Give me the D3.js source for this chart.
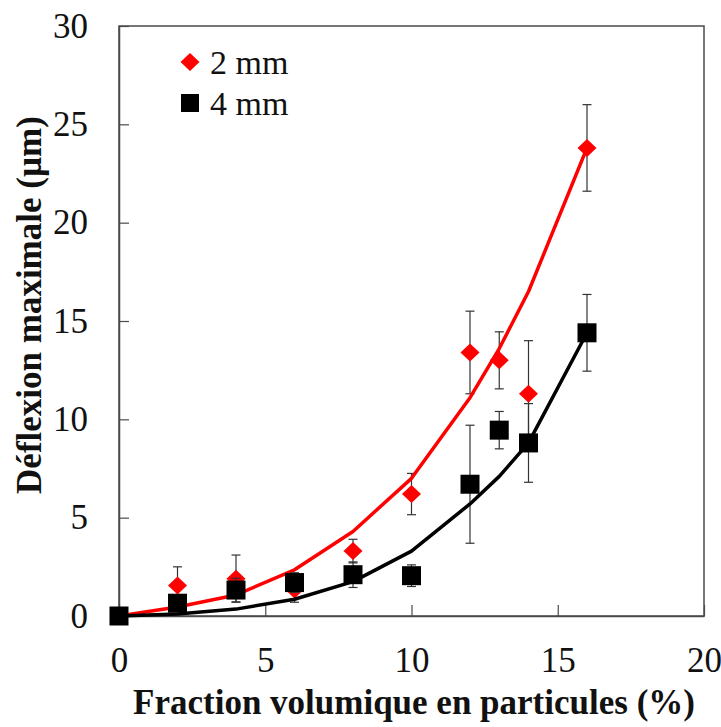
<!DOCTYPE html>
<html>
<head>
<meta charset="utf-8">
<script src="https://cdn.jsdelivr.net/npm/d3@7"></script>
<style>
  html, body { margin: 0; padding: 0; background: #fff; }
  svg { display: block; }
</style>
</head>
<body>
<script>
// ---- Data ----
const xValues = [0, 2, 4, 6, 8, 10, 12, 13, 14, 16];
const series2mm = [0, 1.55, 1.9, 1.35, 3.3, 6.2, 13.4, 13.0, 11.3, 23.8];
const err2mm = [0, 0.95, 1.2, 0.65, 0.6, 1.05, 2.1, 1.45, 2.7, 2.2];
const series4mm = [0, 0.65, 1.32, 1.7, 2.1, 2.05, 6.7, 9.45, 8.8, 14.4];
const err4mm = [0, 0.3, 0.6, 0.5, 0.65, 0.55, 3.0, 0.95, 2.0, 1.95];
const fit2mm = [0, 0.46, 1.07, 2.35, 4.3, 7.0, 11.1, 13.6, 16.5, 23.8];
const fit4mm = [0, 0.1, 0.35, 0.85, 1.75, 3.3, 5.7, 7.1, 8.8, 14.4];
const xTicks = [0, 5, 10, 15, 20];
const yTicks = [0, 5, 10, 15, 20, 25, 30];
const legendLabels = ["2 mm", "4 mm"];
const xTitle = "Fraction volumique en particules (%)";
const yTitle = "Déflexion maximale (µm)";

const W = 721, H = 727;
const margin = { left: 119, top: 26, right: 17, bottom: 111 };
const FONT = "'Liberation Serif', 'Times New Roman', serif";

const svg = d3.select("body").append("svg")
  .attr("width", W).attr("height", H);

const x = d3.scaleLinear().domain([0, 20]).range([margin.left, W - margin.right]);
const y = d3.scaleLinear().domain([0, 30]).range([H - margin.bottom, margin.top]);

const axisColor = "#4a4a4a";

// Plot box
svg.append("rect")
  .attr("x", x(0)).attr("y", y(30))
  .attr("width", x(20) - x(0)).attr("height", y(0) - y(30))
  .attr("fill", "none").attr("stroke", axisColor).attr("stroke-width", 1.5);

// Axes (ticks inward)
const xAxis = svg.append("g")
  .attr("transform", `translate(0,${y(0)})`)
  .call(d3.axisBottom(x).tickValues(xTicks).tickSizeInner(-11).tickSizeOuter(0).tickPadding(31));
xAxis.select(".domain").attr("stroke", axisColor).attr("stroke-width", 1.5);
xAxis.selectAll(".tick line").attr("stroke", axisColor).attr("stroke-width", 1.2);
xAxis.selectAll(".tick text")
  .attr("font-family", FONT).attr("font-size", 35).attr("fill", "#111");

const yAxis = svg.append("g")
  .attr("transform", `translate(${x(0)},0)`)
  .call(d3.axisLeft(y).tickValues(yTicks).tickSizeInner(-10).tickSizeOuter(0).tickPadding(31));
yAxis.select(".domain").attr("stroke", axisColor).attr("stroke-width", 1.5);
yAxis.selectAll(".tick line").attr("stroke", axisColor).attr("stroke-width", 1.2);
yAxis.selectAll(".tick text")
  .attr("font-family", FONT).attr("font-size", 35).attr("fill", "#111");

// Data rows
const rows2 = xValues.map((v, i) => ({ x: v, y: series2mm[i], e: err2mm[i], f: fit2mm[i] }));
const rows4 = xValues.map((v, i) => ({ x: v, y: series4mm[i], e: err4mm[i], f: fit4mm[i] }));

const line = d3.line().x(d => x(d.x)).y(d => y(d.f));

function errorBars(rows) {
  const g = svg.append("g").attr("stroke", "#333").attr("stroke-width", 1.2).attr("fill", "none");
  rows.filter(d => d.e > 0).forEach(d => {
    const cx = x(d.x);
    g.append("line").attr("x1", cx).attr("x2", cx).attr("y1", y(d.y - d.e)).attr("y2", y(d.y + d.e));
    g.append("line").attr("x1", cx - 4.5).attr("x2", cx + 4.5).attr("y1", y(d.y + d.e)).attr("y2", y(d.y + d.e));
    g.append("line").attr("x1", cx - 4.5).attr("x2", cx + 4.5).attr("y1", y(d.y - d.e)).attr("y2", y(d.y - d.e));
  });
}

const diamond = (cx, cy) => `M${cx},${cy - 9} L${cx + 9.5},${cy} L${cx},${cy + 9} L${cx - 9.5},${cy} Z`;

// 2 mm series
errorBars(rows2);
svg.append("path").datum(rows2).attr("d", line)
  .attr("fill", "none").attr("stroke", "#ff0000").attr("stroke-width", 3.5).attr("stroke-linejoin", "round");
svg.append("g").selectAll("path").data(rows2).join("path")
  .attr("d", d => diamond(x(d.x), y(d.y))).attr("fill", "#ff0000");

// 4 mm series
errorBars(rows4);
svg.append("path").datum(rows4).attr("d", line)
  .attr("fill", "none").attr("stroke", "#000").attr("stroke-width", 3.5).attr("stroke-linejoin", "round");
svg.append("g").selectAll("rect").data(rows4).join("rect")
  .attr("x", d => x(d.x) - 9.5).attr("y", d => y(d.y) - 9.5)
  .attr("width", 19).attr("height", 19).attr("fill", "#000");

// Legend
const leg = svg.append("g");
leg.append("path").attr("d", diamond(190, 62)).attr("fill", "#ff0000");
leg.append("rect").attr("x", 181).attr("y", 94).attr("width", 18).attr("height", 18).attr("fill", "#000");
leg.selectAll("text").data(legendLabels).join("text")
  .attr("x", 210).attr("y", (d, i) => 62 + i * 41)
  .attr("dy", "0.35em")
  .attr("font-family", FONT).attr("font-size", 34).attr("fill", "#111")
  .text(d => d);

// Axis titles
svg.append("text")
  .attr("x", 414).attr("y", 714)
  .attr("text-anchor", "middle")
  .attr("font-family", FONT).attr("font-weight", "bold").attr("font-size", 35).attr("fill", "#111")
  .text(xTitle);

svg.append("text")
  .attr("transform", `translate(41,${305}) rotate(-90)`)
  .attr("text-anchor", "middle")
  .attr("font-family", FONT).attr("font-weight", "bold").attr("font-size", 35).attr("fill", "#111")
  .text(yTitle);
</script>
</body>
</html>
